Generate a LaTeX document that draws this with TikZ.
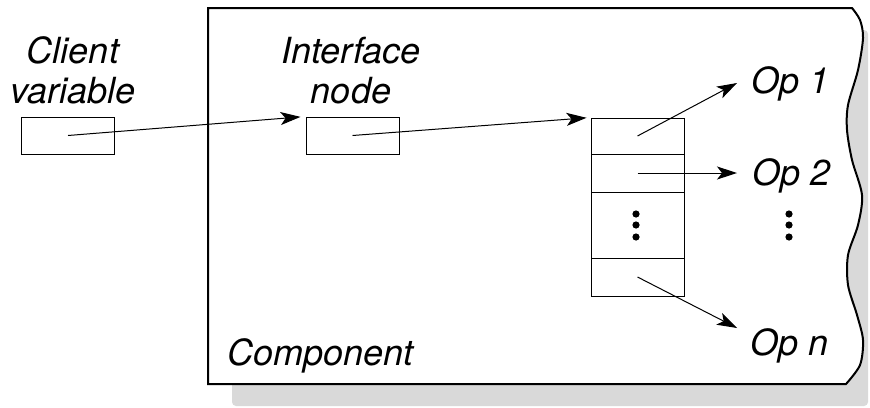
\documentclass[tikz,border=0pt]{standalone}
\usepackage{fontspec}
\setmainfont{TeX Gyre Heros}
\usetikzlibrary{arrows.meta}

\begin{document}
\begin{tikzpicture}[x=0.5pt,y=-0.5pt,
  cellbox/.style={draw,line width=0.5pt,inner sep=0,minimum width=46.5pt,minimum height=18.5pt},
  lbl/.style={font=\fontsize{18}{20}\selectfont\itshape,align=center,inner sep=1pt},
  ptr/.style={-{Stealth[length=10pt,width=6.5pt,inset=2.5pt]},line width=0.5pt}]
  \useasboundingbox (0,0) rectangle (870,407);
  \fill [black!15,rounded corners=2pt] (232,30) rectangle (868,406);
  \draw [fill=white,line width=1pt] (208,384) -- (208,8) -- plot[smooth] coordinates
    {(852,8) (860,20) (863,38) (858,70) (848,105) (847,130) (852,160) (862,195) (858,225)
     (848,255) (848,285) (857,315) (863,340) (860,365) (846,384)} -- cycle;

  \node [cellbox] (cvar) at (68,135.5) {};
  \node [cellbox] (inode) at (352.5,135.5) {};
  \node [cellbox,minimum height=18pt] (cell1) at (637.5,136) {};
  \node [cellbox,minimum height=19pt] (cell2) at (637.5,173) {};
  \node [cellbox,minimum height=33pt] (cell3) at (637.5,225) {};
  \node [cellbox,minimum height=19pt] (celln) at (637.5,277) {};

  \node [lbl] (cvartxt) at (73,70) {Client\\variable};
  \node [lbl] (inodetxt) at (351,71) {Interface\\node};
  \node [lbl,anchor=base west] (op1) at (749,93) {Op 1};
  \node [lbl,anchor=base west] (op2) at (750,185) {Op 2};
  \node [lbl,anchor=base west] (opn) at (748,355) {Op n};
  \node [lbl,anchor=base west] (comp) at (225,365) {Component};

  \coordinate (op1tip) at (737,83);
  \coordinate (op2tip) at (737,173);
  \coordinate (opntip) at (737,328);

  \draw [ptr,shorten >=2.5pt] (cvar.center) -- (inode.north west);
  \draw [ptr,shorten >=2pt] (inode.center) -- (cell1.north west);
  \draw [ptr] (cell1.center) -- (op1tip);
  \draw [ptr] (cell2.center) -- (op2tip);
  \draw [ptr] (celln.center) -- (opntip);

  \foreach \x in {636,789}
    \foreach \y in {214,225,237}
      \fill (\x,\y) circle (1.8pt);
\end{tikzpicture}
\end{document}
